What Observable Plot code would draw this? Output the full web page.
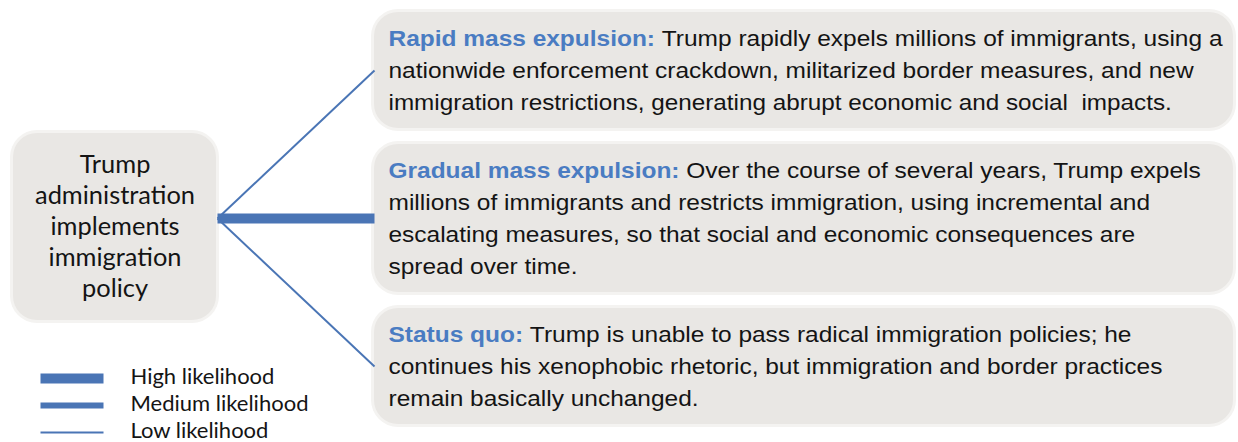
<!DOCTYPE html>
<html><head><meta charset="utf-8">
<script src="https://cdn.jsdelivr.net/npm/d3@7"></script>
<script src="https://cdn.jsdelivr.net/npm/@observablehq/plot@0.6"></script>
<style>html,body{margin:0;padding:0;background:#fff;overflow:hidden}</style>
</head><body><div id="chart"></div>
<script>
// ---------- data ----------
const rootLabel = ["Trump", "administration", "implements", "immigration", "policy"];
const scenarios = ["Rapid mass expulsion:", "Gradual mass expulsion:", "Status quo:"];
const scenarioLikelihood = ["Low likelihood", "High likelihood", "Low likelihood"];
const scenarioLines = [
  ["Trump rapidly expels millions of immigrants, using a",
   "nationwide enforcement crackdown, militarized border measures, and new",
   "immigration restrictions, generating abrupt economic and social  impacts."],
  ["Over the course of several years, Trump expels",
   "millions of immigrants and restricts immigration, using incremental and",
   "escalating measures, so that social and economic consequences are",
   "spread over time."],
  ["Trump is unable to pass radical immigration policies; he",
   "continues his xenophobic rhetoric, but immigration and border practices",
   "remain basically unchanged."]
];
const likelihoodLevels = ["High likelihood", "Medium likelihood", "Low likelihood"];

// ---------- layout & style ----------
const W = 1238, H = 442;
const weight = {"High likelihood": 10, "Medium likelihood": 6, "Low likelihood": 2};
const L = {
  root: {x1: 13, x2: 216, y1: 133, y2: 320},
  boxX1: 374, boxX2: 1233, top: 12, gap: 16, pad: 26, lineH: 32, inset: 14, rx: 24,
  legX1: 40, legX2: 103, legTextX: 130, legY0: 378, legStep: 27
};
const C = {line: "#4a75b5", label: "#4a7cc2", box: "#e9e7e4", glow: "#f4f3f1", text: "#141414"};
const body = '"Liberation Sans", Arial, sans-serif';
const sans = 'Lato, "Open Sans", sans-serif';
const fsN = 22.5;

const ctx = document.createElement("canvas").getContext("2d");
function mw(txt, font) { ctx.font = font; return ctx.measureText(txt.replace(/\s+/g, " ")).width; }
const fBold = `bold ${fsN}px ${body}`, fReg = `${fsN}px ${body}`;
// horizontal condensing factor fitted to the reference's first line width
const squeeze = 834 / (mw(scenarios[0] + " ", fBold) + mw(scenarioLines[0][0], fReg));
const fsRoot = 22 * 160 / mw("administration", `22px ${sans}`);
const fsLeg = 19 * 178 / mw("Medium likelihood", `19px ${sans}`);

// boxes
let yy = L.top;
const boxes = scenarios.map((s, i) => {
  const n = scenarioLines[i].length;
  const h = 2 * L.pad + (n - 1) * L.lineH;
  const b = {x1: L.boxX1, x2: L.boxX2, y1: yy, y2: yy + h, cy: yy + h / 2, i};
  yy += h + L.gap;
  return b;
});
const allBoxes = [L.root, ...boxes];
const junctionY = boxes[scenarioLikelihood.indexOf("High likelihood")].cy;

const links = boxes.map((b, i) => ({
  x1: L.root.x2 + 1, y1: junctionY, x2: b.x1, y2: b.cy, w: weight[scenarioLikelihood[i]]
}));

const labelRows = boxes.map((b, i) => ({x: b.x1 + L.inset, y: b.y1 + L.pad, text: scenarios[i],
  len: mw(scenarios[i], fBold) * squeeze}));
const bodyRows = [];
boxes.forEach((b, i) => {
  scenarioLines[i].forEach((t, k) => {
    const off = k === 0 ? mw(scenarios[i] + " ", fBold) * squeeze : 0;
    bodyRows.push({x: b.x1 + L.inset + off, y: b.y1 + L.pad + k * L.lineH, text: t, len: mw(t, fReg) * squeeze});
  });
});

const legend = likelihoodLevels.map((lv, i) => ({level: lv, y: L.legY0 + i * L.legStep, w: weight[lv]}));

const chart = Plot.plot({
  width: W, height: H, margin: 0,
  x: {domain: [0, W], axis: null},
  y: {domain: [0, H], reverse: true, axis: null},
  style: {background: "#fff"},
  marks: [
    Plot.rect(allBoxes, {x1: d => d.x1 - 3, x2: d => d.x2 + 3, y1: d => d.y1 - 3, y2: d => d.y2 + 3, rx: L.rx + 3, fill: C.glow}),
    Plot.rect(allBoxes, {x1: "x1", x2: "x2", y1: "y1", y2: "y2", rx: L.rx, fill: C.box}),
    Plot.link(links, {x1: "x1", y1: "y1", x2: "x2", y2: "y2", stroke: C.line, strokeWidth: "w"}),
    Plot.text([rootLabel.join("\n")], {
      x: (L.root.x1 + L.root.x2) / 2, y: (L.root.y1 + L.root.y2) / 2 - 2, text: d => d,
      fontFamily: sans, fontSize: fsRoot, lineHeight: 31 / fsRoot, fill: C.text, textAnchor: "middle", lineAnchor: "middle"
    }),
    Plot.text(labelRows, {x: "x", y: "y", text: "text", fontFamily: body, fontSize: fsN, fontWeight: "bold",
      fill: C.label, textAnchor: "start", lineAnchor: "middle"}),
    Plot.text(bodyRows, {x: "x", y: "y", text: "text", fontFamily: body, fontSize: fsN,
      fill: C.text, textAnchor: "start", lineAnchor: "middle"}),
    Plot.link(legend, {x1: L.legX1, x2: L.legX2, y1: "y", y2: "y", stroke: C.line, strokeWidth: "w"}),
    Plot.text(legend, {x: L.legTextX, y: d => d.y - 2, text: "level", fontFamily: sans, fontSize: fsLeg,
      fill: C.text, textAnchor: "start", lineAnchor: "middle"})
  ]
});
// condense scenario text horizontally (narrow face look)
const textGroups = chart.querySelectorAll('g[aria-label="text"]');
[[textGroups[1], labelRows], [textGroups[2], bodyRows]].forEach(([g, rows]) => {
  g.querySelectorAll("text").forEach((t, j) => {
    t.setAttribute("textLength", rows[j].len.toFixed(1));
    t.setAttribute("lengthAdjust", "spacingAndGlyphs");
  });
});
document.getElementById("chart").appendChild(chart);
</script>
</body></html>
